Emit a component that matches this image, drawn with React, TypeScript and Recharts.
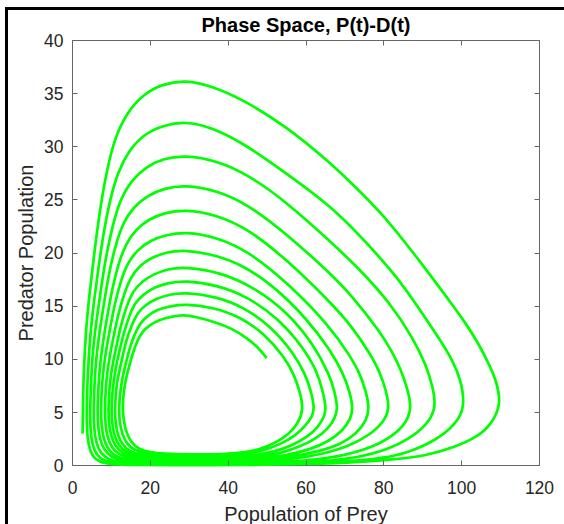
import { LineChart, Line, XAxis, YAxis, ReferenceArea } from "recharts";

type Pt = [number, number];

// [prey, predator] pairs, one array per turn of the spiral
const startArc: Pt[] = [[49.9, 10.1], [47.5, 11.2], [44.8, 12.0], [41, 12.9], [36.2, 13.55], [32, 13.95]];

const turn0: Pt[] = [
  [28.5, 14.2], [25.3, 14.0], [22.2, 13.7], [19.8, 13.2], [17.9, 12.6], [16.6, 11.7], [15.5, 10.6], [14.6, 9.4],
  [13.8, 8.3], [13.3, 7.3], [13.0, 6.3], [12.9, 5.2], [13.2, 4.1], [13.9, 3.0], [15.2, 2.1], [17.2, 1.5],
  [19.8, 1.25], [23.5, 1.1], [30, 1.05], [38, 1.05], [44, 1.2], [48.5, 1.55], [52.5, 2.2], [55.8, 3.0],
  [58, 4.0], [59.4, 5.3], [58.4, 7.0], [57, 8.5], [54.5, 10.2], [49, 12.5], [43, 14], [36, 14.9],
];

const turn1: Pt[] = [
  [29, 15.2], [25.1, 15.0], [21.9, 14.7], [19.3, 14.1], [17.4, 13.4], [16.0, 12.4], [14.8, 11.2], [13.9, 9.9],
  [13.0, 8.6], [12.5, 7.5], [12.1, 6.4], [11.95, 5.2], [12.1, 4.1], [12.7, 3.0], [13.9, 2.05], [15.8, 1.45],
  [18.5, 1.15], [22.5, 1.0], [28, 0.95], [37, 0.92], [44, 1.05], [49, 1.4], [53.5, 2.0], [57.3, 2.8],
  [60, 3.8], [61.6, 4.6], [62.2, 5.4], [61.3, 7.0], [59.8, 8.6], [57, 10.5], [51, 13.1], [44, 14.9], [37, 15.9],
];

const turn2: Pt[] = [
  [29, 16.3], [24.9, 16.1], [21.5, 15.7], [18.7, 15.1], [16.7, 14.4], [15.2, 13.2], [13.9, 11.9], [13.0, 10.5],
  [12.1, 9.0], [11.4, 7.8], [11.1, 6.6], [10.9, 5.2], [11.05, 4.0], [11.6, 2.9], [12.7, 2.0], [14.5, 1.35],
  [17.2, 1.0], [21.5, 0.85], [28, 0.78], [38, 0.76], [46, 0.9], [52, 1.3], [56.5, 1.9], [60.5, 2.7],
  [63.3, 3.7], [64.7, 4.6], [65.2, 5.4], [64.3, 7.0], [62.9, 8.8], [59.5, 11], [53, 13.8], [45, 15.9], [37, 17],
];

const turn3: Pt[] = [
  [29, 17.4], [24.7, 17.2], [21.1, 16.8], [18.2, 16.1], [16.0, 15.3], [14.5, 14.0], [13.2, 12.5], [12.2, 11.0],
  [11.2, 9.4], [10.6, 8.0], [10.2, 6.7], [10.0, 5.2], [10.15, 4.0], [10.7, 2.85], [11.8, 1.9], [13.6, 1.25],
  [16.3, 0.88], [21, 0.7], [28, 0.62], [38, 0.6], [47, 0.75], [53, 1.1], [58, 1.7], [62.5, 2.5],
  [65.8, 3.5], [67.5, 4.5], [68.2, 5.4], [67.3, 7.0], [66.2, 8.4], [62, 11.4], [55, 14.5], [47, 16.7], [38, 18.2],
];

const turn4: Pt[] = [
  [29, 18.7], [24.5, 18.5], [20.7, 18.0], [17.8, 17.3], [15.5, 16.4], [13.9, 15.0], [12.5, 13.3], [11.5, 11.6],
  [10.5, 9.9], [9.8, 8.4], [9.4, 6.9], [9.2, 5.2], [9.35, 3.9], [9.9, 2.75], [11.0, 1.8], [12.8, 1.15],
  [15.5, 0.75], [20.5, 0.55], [28, 0.47], [38, 0.45], [48, 0.6], [55, 0.95], [61, 1.5], [66, 2.3],
  [69.5, 3.3], [71.5, 4.4], [72.1, 5.4], [71.2, 7.0], [69.5, 8.7], [66.2, 10.9], [60, 13.9], [52, 16.8],
  [44, 18.8], [37, 19.8],
];

const turn5: Pt[] = [
  [29, 20.3], [24.3, 20.1], [20.4, 19.6], [17.2, 18.8], [14.9, 17.7], [13.2, 16.1], [11.8, 14.3], [10.7, 12.4],
  [9.6, 10.4], [8.9, 8.7], [8.5, 7.1], [8.3, 5.2], [8.45, 3.8], [9.0, 2.6], [10.1, 1.65], [12.0, 1.0],
  [15, 0.6], [20, 0.42], [28, 0.35], [38, 0.33], [48, 0.45], [56, 0.8], [63, 1.3], [69, 2.0],
  [73, 3.0], [75.5, 4.2], [76.3, 5.4], [75.4, 7.0], [73.8, 8.7], [71.5, 10.2], [66.2, 13.1], [55, 17.3],
  [45, 20.2], [37, 21.5],
];

const turn6: Pt[] = [
  [29, 22.0], [24.1, 21.7], [20.0, 21.2], [16.7, 20.3], [14.2, 19.1], [12.4, 17.4], [10.9, 15.3], [9.8, 13.2],
  [8.7, 11.0], [7.95, 9.1], [7.5, 7.3], [7.3, 5.2], [7.45, 3.7], [8.0, 2.5], [9.1, 1.5], [11.0, 0.85],
  [14, 0.48], [19, 0.32], [27, 0.26], [35, 0.24], [47, 0.32], [57, 0.62], [64, 1.05], [71, 1.8],
  [76.5, 2.9], [80.0, 4.1], [81.5, 5.4], [80.6, 7.0], [79, 8.8], [76.5, 10.5], [72, 13.0], [66.2, 15.4],
  [55, 19.4], [45, 22.3], [37, 23.6],
];

const turn7: Pt[] = [
  [29, 24.1], [23.9, 23.8], [19.6, 23.2], [16.2, 22.2], [13.6, 20.8], [11.7, 18.9], [10.2, 16.6], [9.0, 14.2],
  [7.85, 11.7], [7.1, 9.6], [6.65, 7.5], [6.4, 5.2], [6.55, 3.6], [7.1, 2.35], [8.2, 1.4], [10.1, 0.75],
  [13, 0.38], [18, 0.22], [26, 0.18], [35, 0.16], [50, 0.22], [62, 0.5], [70, 0.95], [77, 1.7],
  [82.5, 2.8], [85.9, 4.1], [87.1, 5.4], [86.2, 7.1], [84.3, 9.1], [82, 10.8], [79, 12.6], [72, 15.9],
  [66.2, 18.1], [55, 21.8], [45, 24.6], [37, 25.9],
];

const turn8: Pt[] = [
  [29, 26.4], [23.6, 26.1], [19.2, 25.4], [15.6, 24.3], [12.9, 22.8], [10.95, 20.6], [9.3, 18.0], [8.1, 15.3],
  [6.9, 12.5], [6.1, 10.2], [5.65, 7.8], [5.4, 5.2], [5.55, 3.4], [6.1, 2.1], [7.2, 1.15], [9.2, 0.55],
  [12.3, 0.25], [17.5, 0.14], [26, 0.11], [35, 0.1], [52, 0.15], [65, 0.38], [74, 0.8], [81, 1.5],
  [86.5, 2.5], [91.0, 3.8], [93.5, 5.4], [92.6, 7.4], [90.8, 9.5], [87.5, 12], [81.6, 15.3], [74, 18.4],
  [66.2, 21.1], [55, 24.8], [45, 27.4], [37, 28.7],
];

const turn9: Pt[] = [
  [29, 29.2], [23.4, 28.9], [18.8, 28.1], [15.1, 26.8], [12.3, 25.1], [10.3, 22.6], [8.6, 19.7], [7.3, 16.6],
  [6.1, 13.5], [5.2, 10.8], [4.8, 8.1], [4.5, 5.2], [4.6, 3.3], [5.1, 1.95], [6.1, 1.0], [8.0, 0.45],
  [11.2, 0.18], [16.5, 0.08], [25, 0.06], [35, 0.06], [55, 0.1], [70, 0.32], [80, 0.7], [86, 1.17],
  [93.6, 2.4], [98.5, 3.9], [100.9, 5.5], [99.8, 8.1], [97.5, 10], [94.5, 11.8], [89, 14.8], [83.3, 17.8],
  [75, 21.2], [66.2, 24.5], [53, 28.0], [44, 30.3], [36, 31.8],
];

const turn10: Pt[] = [
  [29, 32.4], [23.2, 32.0], [18.4, 31.2], [14.6, 29.7], [11.7, 27.7], [9.6, 25.0], [7.8, 21.6], [6.5, 18.1],
  [5.2, 14.6], [4.4, 11.6], [3.9, 8.5], [3.6, 5.2], [3.7, 3.2], [4.15, 1.8], [5.1, 0.85], [6.9, 0.32],
  [10, 0.1], [15.5, 0.05], [25, 0.04], [35, 0.04], [50, 0.06], [65, 0.15], [75, 0.35], [83, 0.6],
  [90.2, 0.85], [98.8, 1.8], [104, 2.7], [107.5, 3.8], [109.9, 5.6], [109.5, 7.0], [108.6, 8.2], [107.3, 9.3],
  [104.5, 11.4], [100.5, 13.7], [96, 15.9], [92, 17.9], [85.5, 21.0], [79, 23.9], [72.5, 26.3], [66.2, 28.5],
  [55, 31.9], [44, 34.4], [36, 35.7],
];

const turn11: Pt[] = [
  [29, 36.3], [23, 35.9], [18, 34.9], [14, 33.2], [11, 31], [8.8, 27.8], [7, 24], [5.6, 20],
  [4.3, 16], [3.4, 12.5], [2.9, 9], [2.7, 6], [2.6, 3],
];

const xTicks = [0, 20, 40, 60, 80, 100, 120];
const yTicks = [0, 5, 10, 15, 20, 25, 30, 35, 40];

const trajectory = [startArc, turn0, turn1, turn2, turn3, turn4, turn5, turn6, turn7, turn8, turn9, turn10, turn11]
  .flat()
  .map(([prey, predator]) => ({ prey, predator }));

const W = 564;
const H = 524;
const PLOT_LEFT = 72.5;
const PLOT_TOP = 40.5;
const PLOT_W = 467;
const PLOT_H = 425;
const PLOT_RIGHT = PLOT_LEFT + PLOT_W;
const PLOT_BOTTOM = PLOT_TOP + PLOT_H;
const TICK = 5;
const AXIS = "#666";
const TEXT = "#262626";
const FONT = "'Liberation Sans', Arial, sans-serif";

const crisp = (v: number) => Math.floor(v) + 0.5;

function XTick(props: any) {
  const { x, payload } = props;
  const cx = crisp(x);
  return (
    <g>
      <line x1={cx} x2={cx} y1={PLOT_BOTTOM} y2={PLOT_BOTTOM - TICK} stroke={AXIS} />
      <line x1={cx} x2={cx} y1={PLOT_TOP} y2={PLOT_TOP + TICK} stroke={AXIS} />
      <text x={x} y={PLOT_BOTTOM + 28.5} textAnchor="middle" fill={TEXT} fontSize={17.5} fontFamily={FONT}>
        {payload.value}
      </text>
    </g>
  );
}

function YTick(props: any) {
  const { y, payload } = props;
  const cy = crisp(y);
  return (
    <g>
      <line x1={PLOT_LEFT} x2={PLOT_LEFT + TICK} y1={cy} y2={cy} stroke={AXIS} />
      <line x1={PLOT_RIGHT - TICK} x2={PLOT_RIGHT} y1={cy} y2={cy} stroke={AXIS} />
      <text x={PLOT_LEFT - 9} y={y} dy="0.35em" textAnchor="end" fill={TEXT} fontSize={17.5} fontFamily={FONT}>
        {payload.value}
      </text>
    </g>
  );
}

export default function App() {
  return (
    <div style={{ position: "absolute", left: 0, top: 0, width: W, height: H, overflow: "hidden", background: "#fff" }}>
      <div
        style={{
          position: "absolute",
          left: 5,
          top: 7,
          width: W - 5,
          height: H - 7,
          borderLeft: "3px solid #000",
          borderTop: "3px solid #000",
          boxSizing: "border-box",
        }}
      />
      <div style={{ position: "absolute", left: 0, top: 0 }}>
        <LineChart
          width={W}
          height={H}
          data={trajectory}
          margin={{ top: PLOT_TOP, right: W - PLOT_RIGHT, bottom: 0, left: 0 }}
        >
          <XAxis
            dataKey="prey"
            type="number"
            domain={[0, 120]}
            ticks={xTicks}
            height={H - PLOT_BOTTOM}
            axisLine={false}
            tickLine={false}
            tick={XTick}
          />
          <YAxis
            type="number"
            domain={[0, 40]}
            ticks={yTicks}
            width={PLOT_LEFT}
            axisLine={false}
            tickLine={false}
            tick={YTick}
          />
          <ReferenceArea x1={0} x2={120} y1={0} y2={40} fill="none" stroke={AXIS} strokeWidth={1} />
          <Line
            dataKey="predator"
            type="basis"
            stroke="#00ff00"
            strokeWidth={2.7}
            dot={false}
            activeDot={false}
            isAnimationActive={false}
          />
        </LineChart>
      </div>
      <svg width={W} height={H} style={{ position: "absolute", left: 0, top: 0, pointerEvents: "none" }}>
        <text x={306} y={32} textAnchor="middle" fontSize={20} fontWeight="bold" fill="#000" fontFamily={FONT}>
          Phase Space, P(t)-D(t)
        </text>
        <text x={306} y={520.5} textAnchor="middle" fontSize={20} fill={TEXT} fontFamily={FONT}>
          Population of Prey
        </text>
        <text
          transform={`translate(33, 253) rotate(-90)`}
          textAnchor="middle"
          fontSize={20}
          fill={TEXT}
          fontFamily={FONT}
        >
          Predator Population
        </text>
      </svg>
    </div>
  );
}
